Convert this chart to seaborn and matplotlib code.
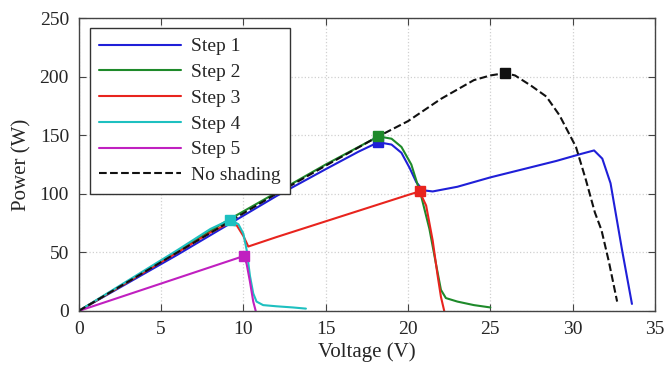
import pandas as pd
import matplotlib
matplotlib.use("Agg")
import matplotlib.pyplot as plt
import seaborn as sns

# PV curves
v_step1 = [0, 3, 6, 9, 12, 15, 17, 18.2, 19, 19.6, 20.1, 20.5, 20.9, 21.5, 23, 25, 27, 29, 30.5, 31.3, 31.8, 32.3, 33.0, 33.6]
p_step1 = [0, 24, 48, 73, 98, 121, 136, 144, 142, 135, 122, 110, 103, 102, 106, 114, 121, 128, 134, 137, 130, 109, 52, 6]

v_step2 = [0, 3, 6, 9, 12, 15, 17, 18.2, 19, 19.6, 20.2, 20.8, 21.3, 21.7, 22.0, 22.3, 23, 24, 25]
p_step2 = [0, 25, 51, 77, 101, 125, 140, 149, 147, 140, 125, 98, 70, 40, 18, 11, 8, 5, 3]

v_step3 = [0, 3, 6, 8, 9, 9.6, 10.0, 10.3, 12, 14, 16, 18, 20, 20.7, 21.1, 21.5, 21.8, 22.0, 22.2]
p_step3 = [0, 25, 50, 67, 74, 73, 64, 55, 63, 72, 81, 90, 99, 102, 90, 60, 30, 12, 0]

v_step4 = [0, 3, 6, 8, 9.2, 9.7, 10.0, 10.2, 10.4, 10.6, 10.8, 11.2, 12, 13, 13.8]
p_step4 = [0, 26, 52, 70, 78, 74, 66, 52, 30, 15, 8, 5, 4, 3, 2]

v_step5 = [0, 10.05, 10.2, 10.4, 10.6, 10.75]
p_step5 = [0, 47, 40, 25, 8, 0]

v_noshade = [0, 3, 6, 9, 12, 15, 18.2, 20, 22, 23, 24, 25, 25.9, 26.5, 27.5, 28.4, 29.2, 30.2, 30.8, 31.35, 31.75, 32.2, 32.7]
p_noshade = [0, 25, 50, 75, 100, 124, 149, 162, 181, 189, 197, 201, 203, 201, 192, 183, 167, 140, 112, 84, 69, 42, 8]

# maximum power points
mpp_v = [18.2, 18.2, 20.7, 9.2, 10.05, 25.9]
mpp_p = [144, 149, 102, 78, 47, 203]

labels = ["Step 1", "Step 2", "Step 3", "Step 4", "Step 5", "No shading"]
colors = ["#1f1fd8", "#1e8a2a", "#e8241e", "#1ec0c0", "#c020c0", "#111111"]

curves = [(v_step1, p_step1), (v_step2, p_step2), (v_step3, p_step3),
          (v_step4, p_step4), (v_step5, p_step5), (v_noshade, p_noshade)]

frames = []
for lab, (v, p) in zip(labels, curves):
    frames.append(pd.DataFrame({"Voltage": v, "Power": p, "curve": lab}))
df = pd.concat(frames, ignore_index=True)

sns.set_style("ticks")
plt.rcParams["font.family"] = ["Liberation Serif", "DejaVu Serif"]

fig = plt.figure(figsize=(6.67, 3.68), dpi=100)
ax = fig.add_axes([0.118, 0.155, 0.864, 0.796])

for lab, col in zip(labels, colors):
    sub = df[df["curve"] == lab]
    sns.lineplot(data=sub, x="Voltage", y="Power", ax=ax, sort=False,
                 color=col, linewidth=1.5, label=lab,
                 linestyle="--" if lab == "No shading" else "-")

for v, p, col in zip(mpp_v, mpp_p, colors):
    ax.plot(v, p, marker="s", markersize=7, color=col, linestyle="none")

ax.set_xlim(0, 35)
ax.set_ylim(0, 250)
ax.set_xticks(range(0, 36, 5))
ax.set_yticks(range(0, 251, 50))
ax.grid(True, linestyle=":", color="#d0d0d0", linewidth=0.9)
ax.tick_params(direction="in", top=True, right=True, labelsize=14, length=5,
               color="#444444", pad=7)
for s in ax.spines.values():
    s.set_color("#444444")
    s.set_linewidth(1.0)

ax.set_xlabel("Voltage (V)", fontsize=15, labelpad=3)
ax.set_ylabel("Power (W)", fontsize=15, labelpad=6)

leg = ax.legend(loc="upper left", bbox_to_anchor=(0.019, 0.966), borderaxespad=0,
                fontsize=14, handlelength=4.2, labelspacing=0.42, borderpad=0.5,
                handletextpad=0.5, fancybox=False, framealpha=1)
leg.get_frame().set_edgecolor("#333333")
leg.get_frame().set_linewidth(1.0)

fig.savefig("out.png", dpi=100)
